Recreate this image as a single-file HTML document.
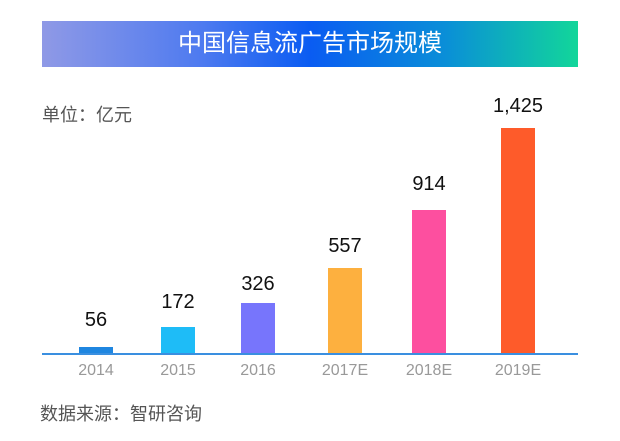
<!DOCTYPE html>
<html><head><meta charset="utf-8"><style>
body{margin:0;width:620px;height:441px;background:#fff;position:relative;overflow:hidden;font-family:"Liberation Sans","Noto Sans CJK SC",sans-serif}
.a{position:absolute}
.banner{left:42px;top:21px;width:536px;height:46px;background:linear-gradient(90deg,#8f99e6 0%,#4d7af0 30%,#0a5cf2 50%,#0a8ed8 75%,#12d69a 100%);color:#fff;font-size:24px;text-align:center;line-height:46px}
.bar{position:absolute;width:34px;bottom:87px}
.v{position:absolute;width:80px;text-align:center;font-size:20px;color:#111}
.y{position:absolute;width:80px;text-align:center;font-size:16px;color:#999;top:362px}
</style></head><body>
<div class="a banner">中国信息流广告市场规模</div>
<div class="a" style="left:42px;top:101px;font-size:18px;color:#555">单位：亿元</div>
<div class="bar" style="left:79px;top:347px;background:#1f86e0"></div>
<div class="bar" style="left:161px;top:327px;background:#1ebcf7"></div>
<div class="bar" style="left:241px;top:303px;background:#7775fc"></div>
<div class="bar" style="left:328px;top:268px;background:#fdb03f"></div>
<div class="bar" style="left:412px;top:210px;background:#fd4f9f"></div>
<div class="bar" style="left:501px;top:128px;background:#fe5b2a"></div>
<div class="a" style="left:42px;top:353px;width:536px;height:2px;background:#3a8fe0"></div>
<div class="v" style="left:56px;top:309px">56</div>
<div class="v" style="left:138px;top:291px">172</div>
<div class="v" style="left:218px;top:273px">326</div>
<div class="v" style="left:305px;top:235px">557</div>
<div class="v" style="left:389px;top:173px">914</div>
<div class="v" style="left:478px;top:95px">1,425</div>
<div class="y" style="left:56px">2014</div>
<div class="y" style="left:138px">2015</div>
<div class="y" style="left:218px">2016</div>
<div class="y" style="left:305px">2017E</div>
<div class="y" style="left:389px">2018E</div>
<div class="y" style="left:478px">2019E</div>
<div class="a" style="left:40px;top:400px;font-size:18px;color:#555">数据来源：智研咨询</div>
</body></html>
